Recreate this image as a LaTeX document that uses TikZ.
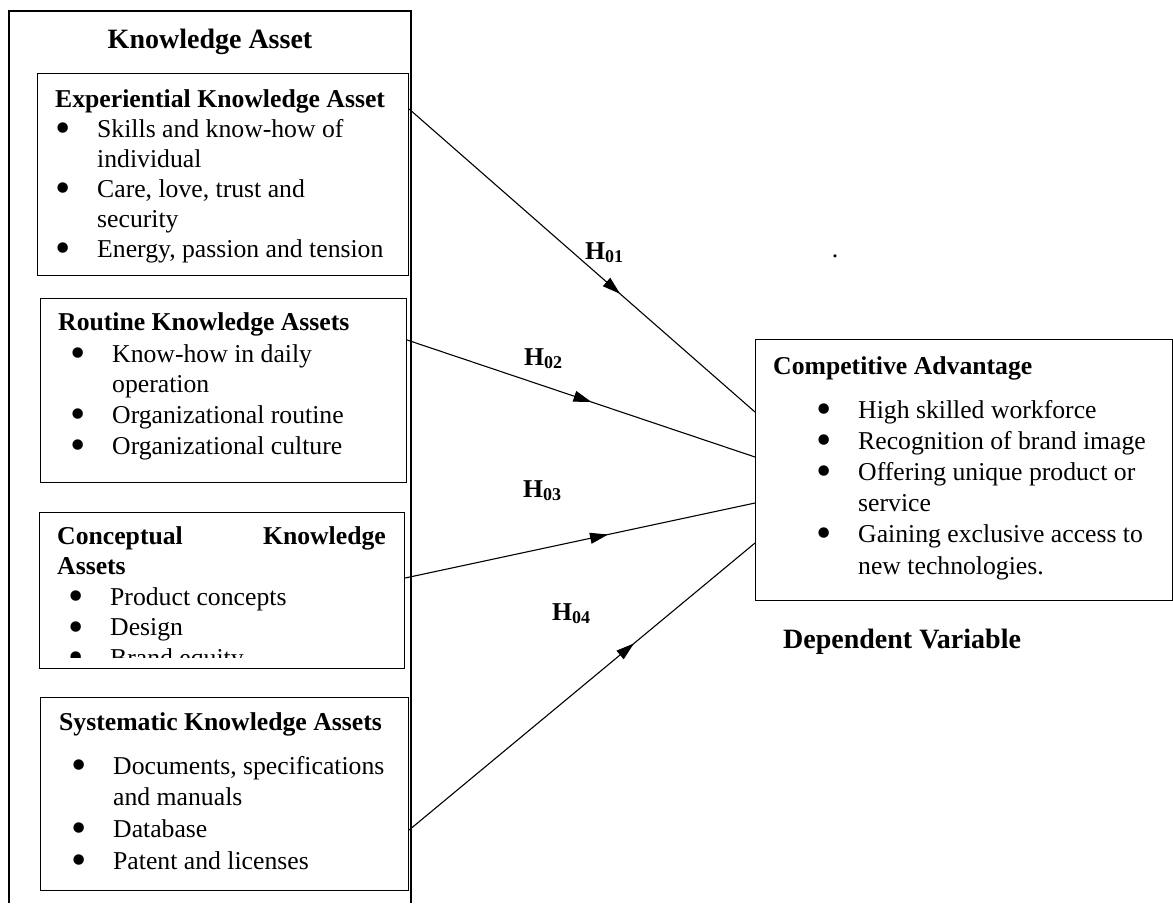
\documentclass[tikz,border=0pt]{standalone}
\usepackage{fontspec}
\setmainfont{Liberation Serif}
\usetikzlibrary{arrows.meta,decorations.markings}
\newcommand{\bodyfont}{\fontsize{25.7}{30}\selectfont}
\newcommand{\bigfont}{\fontsize{28}{33}\selectfont\bfseries}
\newcommand{\bul}{\smash{\raisebox{-5pt}{\scalebox{1.7}{\textbullet}}}}
\newenvironment{assetlist}[1]{\renewcommand{\arraystretch}{#1}\begin{tabular}[t]{@{}p{42pt}@{}l@{}}}{\end{tabular}}

\begin{document}
\begin{tikzpicture}[x=1pt,y=-1pt,
	panel/.style={draw, line width=1.1pt, anchor=north west, inner sep=0pt},
	heading/.style={font=\bodyfont\bfseries, anchor=base west, inner sep=0pt},
	bullets/.style={font=\bodyfont, anchor=base west, inner sep=0pt},
	hyp/.style={font=\bodyfont\bfseries, anchor=base west, inner sep=0pt},
	link/.style={line width=1.1pt},
	midarrow/.style={postaction={decorate}, decoration={markings, mark=at position #1 with {\arrow{Triangle[length=18pt,width=11pt]}}}}
	]
	\useasboundingbox (0,0) rectangle (1173,903);
	% outer frame, open at the bottom
	\draw[link] (9,903) |- (411,11) -- (411,903);
	\node[font=\bigfont, anchor=base, inner sep=0pt] (katitle) at (210,48) {Knowledge Asset};
	
	% independent variables
	\node[panel, minimum width=371pt, minimum height=202pt] (exp) at (37,73) {};
	\node[heading] (expH) at (55,107) {Experiential Knowledge Asset};
	\node[bullets] (expL) at (55,137) {\begin{assetlist}{1.0}
		\bul & Skills and know-how of\\
		& individual\\
		\bul & Care, love, trust and\\
		& security\\
		\bul & Energy, passion and tension
	\end{assetlist}};
	
	\node[panel, minimum width=366pt, minimum height=184pt] (rout) at (40,298) {};
	\node[heading] (routH) at (58,330) {Routine Knowledge Assets};
	\node[bullets] (routL) at (70,362) {\begin{assetlist}{1.033}
		\bul & Know-how in daily\\
		& operation\\
		\bul & Organizational routine\\
		\bul & Organizational culture
	\end{assetlist}};
	
	\node[panel, minimum width=365pt, minimum height=156pt] (conc) at (39,512) {};
	\node[heading] (concH) at (57,544) {Conceptual};
	\node[heading, anchor=base east] (concH2) at (386,544) {Knowledge};
	\node[heading] (concH3) at (57,574) {Assets};
	\begin{scope}
		\clip (39,512) rectangle (404,657);
		\node[bullets] (concL) at (68,605) {\begin{assetlist}{1.033}
			\bul & Product concepts\\
			\bul & Design\\
			\bul & Brand equity
		\end{assetlist}};
	\end{scope}
	
	\node[panel, minimum width=368pt, minimum height=193pt] (syst) at (40,697) {};
	\node[heading] (systH) at (59,730) {Systematic Knowledge Assets};
	\node[bullets] (systL) at (71,774) {\begin{assetlist}{1.056}
		\bul & Documents, specifications\\
		& and manuals\\
		\bul & Database\\
		\bul & Patent and licenses
	\end{assetlist}};
	
	% dependent variable
	\node[panel, minimum width=417pt, minimum height=261pt] (ca) at (755,339) {};
	\node[heading] (caH) at (773,374) {Competitive Advantage};
	\node[bullets] (caL) at (816,418) {\begin{assetlist}{1.04}
		\bul & High skilled workforce\\
		\bul & Recognition of brand image\\
		\bul & Offering unique product or\\
		& service\\
		\bul & Gaining exclusive access to\\
		& new technologies.
	\end{assetlist}};
	\node[font=\bigfont, anchor=base west, inner sep=0pt] (dv) at (783,648) {Dependent Variable};
	\node[font=\bodyfont, anchor=base, inner sep=0pt] (dot) at (835,257) {.};
	
	% hypotheses
	\coordinate (s1) at ([yshift=-36pt]exp.north east);
	\coordinate (s2) at ([yshift=-42pt]rout.north east);
	\coordinate (s3) at ([yshift=-66pt]conc.north east);
	\coordinate (s4) at ([yshift=-133pt]syst.north east);
	\coordinate (e1) at ([yshift=-73pt]ca.north west);
	\coordinate (e2) at ([yshift=-118pt]ca.north west);
	\coordinate (e3) at ([yshift=-164pt]ca.north west);
	\coordinate (e4) at ([yshift=-204pt]ca.north west);
	\draw[link, midarrow=0.61] (s1) -- (e1);
	\draw[link, midarrow=0.53] (s2) -- (e2);
	\draw[link, midarrow=0.58] (s3) -- (e3);
	\draw[link, midarrow=0.65] (s4) -- (e4);
	\node[hyp] (h1) at (585,259) {H\textsubscript{01}};
	\node[hyp] (h2) at (524,365) {H\textsubscript{02}};
	\node[hyp] (h3) at (523,497) {H\textsubscript{03}};
	\node[hyp] (h4) at (552,620) {H\textsubscript{04}};
\end{tikzpicture}
\end{document}
